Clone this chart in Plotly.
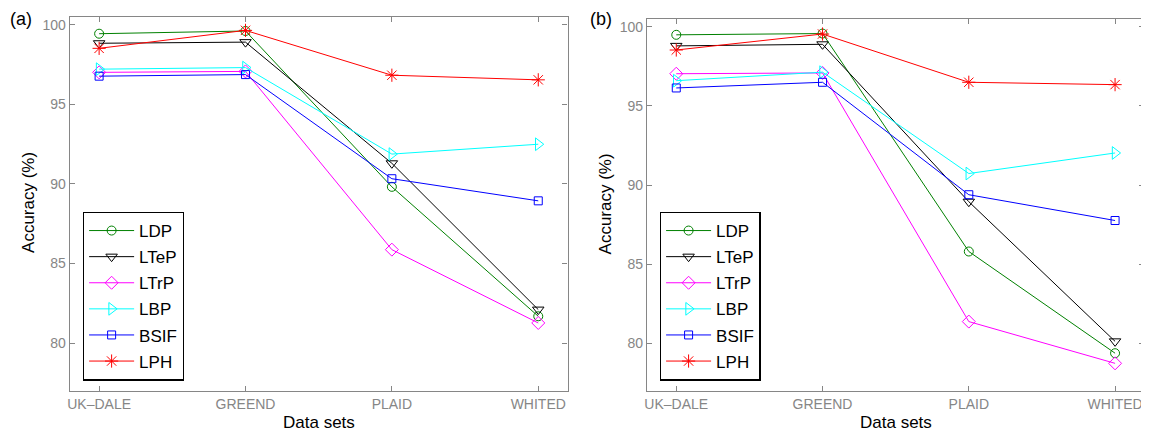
import plotly.graph_objects as go

datasets = ["UK–DALE", "GREEND", "PLAID", "WHITED"]
x_pos = [1, 2, 3, 4]

methods = ["LDP", "LTeP", "LTrP", "LBP", "BSIF", "LPH"]

# Panel (a)
a_LDP = [99.45, 99.62, 89.82, 81.68]
a_LTeP = [98.85, 98.92, 91.30, 82.10]
a_LTrP = [97.02, 97.08, 85.87, 81.26]
a_LBP = [97.22, 97.32, 91.88, 92.50]
a_BSIF = [96.78, 96.88, 90.33, 88.94]
a_LPH = [98.53, 99.66, 96.84, 96.55]

# Panel (b)
b_LDP = [99.50, 99.58, 85.80, 79.37]
b_LTeP = [98.80, 98.90, 88.95, 80.12]
b_LTrP = [97.04, 97.09, 81.37, 78.73]
b_LBP = [96.60, 97.14, 90.73, 92.03]
b_BSIF = [96.14, 96.50, 89.39, 87.76]
b_LPH = [98.54, 99.55, 96.50, 96.35]

panel_a = [a_LDP, a_LTeP, a_LTrP, a_LBP, a_BSIF, a_LPH]
panel_b = [b_LDP, b_LTeP, b_LTrP, b_LBP, b_BSIF, b_LPH]

colors = ["#008000", "#000000", "#ff00ff", "#00ffff", "#0000ff", "#ff0000"]
symbols = ["circle-open", "triangle-down-open", "diamond-open",
           "triangle-right-open", "square-open", "asterisk-open"]
sizes = [9, 10, 10, 11, 8, 11]

y_ticks = [80, 85, 90, 95, 100]

FONT = "Liberation Sans, Arial, Helvetica, sans-serif"
GRAY = "#868686"

# page body has an 8px margin; the figure is sized to fit the window
OFF = 8
W, H = 1149 - OFF, 435 - OFF


def px(xp):
    return (xp - OFF) / W


def py(yp):
    return 1 - (yp - OFF) / H


fig = go.Figure()

for panel, xa, ya, leg in [(panel_a, "x", "y", "legend"), (panel_b, "x2", "y2", "legend2")]:
    for i, name in enumerate(methods):
        fig.add_trace(go.Scatter(
            x=x_pos, y=panel[i], name=name, mode="lines+markers",
            xaxis=xa, yaxis=ya, legend=leg, legendgroup=leg + name,
            line=dict(color=colors[i], width=1),
            marker=dict(symbol=symbols[i], size=sizes[i], color=colors[i],
                        line=dict(color=colors[i], width=1)),
        ))

axis_common = dict(showline=True, linecolor=GRAY, linewidth=1.3, mirror="ticks",
                   ticks="inside", ticklen=5, tickcolor=GRAY, tickwidth=1,
                   showgrid=False, zeroline=False,
                   tickfont=dict(family=FONT, size=14, color=GRAY))

legend_common = dict(xanchor="left", yanchor="top",
                     bgcolor="white", bordercolor="black", borderwidth=1.3,
                     font=dict(family=FONT, size=17, color="black"),
                     tracegroupgap=1, itemwidth=45)

title_font = dict(family=FONT, size=17, color="black")

fig.update_layout(
    width=W, height=H,
    margin=dict(l=0, r=0, t=0, b=0),
    paper_bgcolor="white", plot_bgcolor="white",
    font=dict(family=FONT, color="black"),
    xaxis=dict(domain=[px(67), px(566)], range=[0.8, 4.2], tickvals=x_pos, ticktext=datasets,
               anchor="y", **axis_common),
    yaxis=dict(domain=[py(390.7), py(16.7)], range=[77, 100.52], tickvals=y_ticks,
               anchor="x", **axis_common),
    xaxis2=dict(domain=[px(645.7), px(1144.3)], range=[0.8, 4.2], tickvals=x_pos, ticktext=datasets,
                anchor="y2", **axis_common),
    yaxis2=dict(domain=[py(390.7), py(19)], range=[77, 100.5], tickvals=y_ticks,
                anchor="x2", **axis_common),
    legend=dict(x=px(80), y=py(211.7), **legend_common),
    legend2=dict(x=px(658.5), y=py(211.7), **legend_common),
    annotations=[
        dict(text="Accuracy (%)", x=px(25), y=py(202), xref="paper", yref="paper",
             textangle=-90, showarrow=False, font=title_font,
             xanchor="center", yanchor="middle"),
        dict(text="Accuracy (%)", x=px(604), y=py(204), xref="paper", yref="paper",
             textangle=-90, showarrow=False, font=title_font,
             xanchor="center", yanchor="middle"),
        dict(text="Data sets", x=px(316.5), y=py(422), xref="paper", yref="paper",
             showarrow=False, font=title_font, xanchor="center", yanchor="middle"),
        dict(text="Data sets", x=px(895), y=py(422), xref="paper", yref="paper",
             showarrow=False, font=title_font, xanchor="center", yanchor="middle"),
        dict(text="(a)", x=px(18.5), y=1, xref="paper", yref="paper",
             showarrow=False, font=dict(family=FONT, size=18, color="black"),
             xanchor="center", yanchor="top", borderpad=0),
        dict(text="(b)", x=px(599.5), y=1, xref="paper", yref="paper",
             showarrow=False, font=dict(family=FONT, size=18, color="black"),
             xanchor="center", yanchor="top", borderpad=0),
    ],
)

fig.write_html("out.html")
